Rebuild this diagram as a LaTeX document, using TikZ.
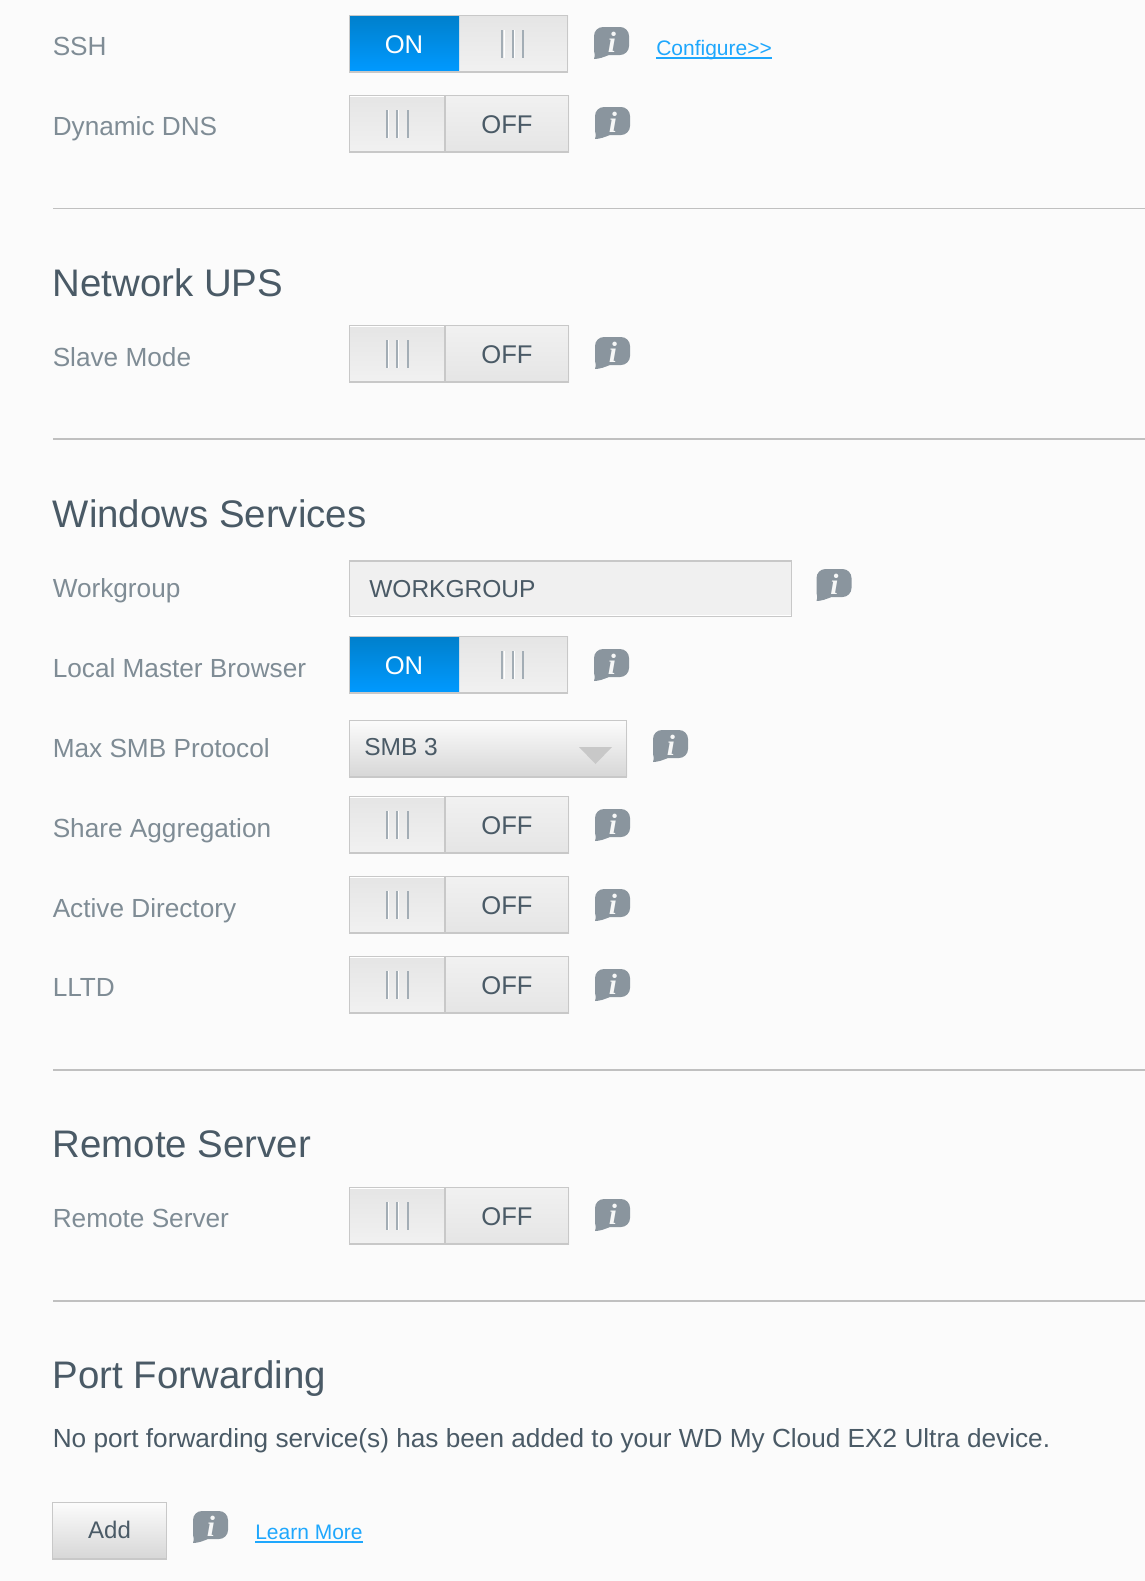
\documentclass[tikz,border=0pt]{standalone}
\usepackage{fontspec}
\setmainfont{Liberation Sans}
\newfontfamily\glyphfont{Liberation Serif}
\definecolor{pagebg}{HTML}{FBFBFB}
\definecolor{rulegray}{HTML}{C0C0C0}
\definecolor{edgegray}{HTML}{C8C8C8}
\definecolor{labelgray}{HTML}{7F8C95}
\definecolor{titleslate}{HTML}{4A5A66}
\definecolor{bubblegray}{HTML}{8A959E}
\definecolor{linkblue}{HTML}{1EA7FD}
\definecolor{gripgray}{HTML}{A3ADB5}
\definecolor{oncolortop}{HTML}{0080CC}
\definecolor{oncolorbottom}{HTML}{0099FF}
\definecolor{graydark}{HTML}{E5E5E5}
\definecolor{graylight}{HTML}{F1F1F1}
\definecolor{buttontop}{HTML}{FCFCFC}
\definecolor{buttonbottom}{HTML}{D7D7D7}
\definecolor{fieldfill}{HTML}{F0F0F0}
\tikzset{
  labeltext/.style={anchor=base west,inner sep=0pt,text=labelgray,font=\fontsize{19.65pt}{23pt}\selectfont},
  titletext/.style={anchor=base west,inner sep=0pt,text=titleslate,font=\fontsize{28.8pt}{34pt}\selectfont},
  bodytext/.style={anchor=base west,inner sep=0pt,text=titleslate,font=\fontsize{19.65pt}{23pt}\selectfont},
  valuetext/.style={anchor=base,inner sep=0pt,text=titleslate,font=\fontsize{19.2pt}{23pt}\selectfont},
  fieldtext/.style={anchor=base west,inner sep=0pt,text=titleslate,font=\fontsize{18.4pt}{22pt}\selectfont},
  ontext/.style={anchor=base,inner sep=0pt,text=white,font=\fontsize{19.2pt}{23pt}\selectfont},
  linktext/.style={anchor=base west,inner sep=0pt,text=linkblue,font=\fontsize{15.75pt}{19pt}\selectfont},
  linkline/.style={draw=linkblue,line width=1.5pt},
  bluepart/.style={top color=oncolortop,bottom color=oncolorbottom},
  handlepart/.style={top color=graydark,bottom color=graylight},
  flatpart/.style={top color=graylight,bottom color=graydark},
  buttonpart/.style={top color=buttontop,bottom color=buttonbottom},
  edgeline/.style={draw=edgegray,line width=0.75pt},
  grip/.style={draw=gripgray,line width=1.5pt},
  gripshade/.style={draw=white,line width=0.75pt},
  sectionrule/.style={draw=rulegray,line width=1.5pt}
}
% speech bubble with the i in it
\newcommand{\infobubble}[3]{
  \fill [bubblegray, shift={(#2,#3)}] (9,0) -- (26,0) .. controls (31,0) and (35,4) .. (35,9) -- (35,19) .. controls (35,24) and (31,28) .. (26,28) -- (15,28) .. controls (10,30) and (5,32) .. (0,32) .. controls (1,30) and (1,28) .. (0,24) -- (0,9) .. controls (0,4) and (4,0) .. (9,0) -- cycle ;
  \draw (#2+18,#3+15) node [inner sep=0pt,text=white!92!bubblegray,font=\glyphfont\bfseries\itshape\fontsize{22pt}{22pt}\selectfont] (#1) {i};
}
% switch that is on, top edge at #2
\newcommand{\switchon}[2]{
  \shade [handlepart] (459,#2) rectangle (568,#2+57);
  \shade [bluepart] (350,#2+1) rectangle (459,#2+56);
  \draw [edgeline] (349.5,#2+.5) rectangle (567.5,#2+56.5);
  \draw [edgegray, line width=1.5pt] (349,#2+56.5) -- (568,#2+56.5);
  \draw [gripshade] (504,#2+15) -- (504,#2+43); \draw [gripshade] (514.5,#2+15) -- (514.5,#2+43);
  \draw [grip] (502.3,#2+15) -- (502.3,#2+43); \draw [grip] (512.8,#2+15) -- (512.8,#2+43); \draw [grip] (523,#2+15) -- (523,#2+43);
  \draw (404,#2+38) node [ontext] (#1) {ON};
}
% switch that is off, top edge at #2
\newcommand{\switchoff}[2]{
  \shade [handlepart] (350,#2) rectangle (445,#2+57);
  \shade [flatpart] (445,#2) rectangle (569,#2+57);
  \draw [edgeline] (349.5,#2+.5) rectangle (568.5,#2+56.5);
  \draw [edgegray, line width=1.5pt] (349,#2+56.5) -- (569,#2+56.5);
  \draw [edgegray, line width=1.5pt] (445,#2+1) -- (445,#2+56);
  \draw [white, line width=0.75pt] (350,#2+1.5) -- (444,#2+1.5);
  \draw [gripshade] (388.2,#2+15) -- (388.2,#2+43); \draw [gripshade] (398.7,#2+15) -- (398.7,#2+43);
  \draw [grip] (386.5,#2+15) -- (386.5,#2+43); \draw [grip] (397,#2+15) -- (397,#2+43); \draw [grip] (408,#2+15) -- (408,#2+43);
  \draw (507,#2+38) node [valuetext] (#1) {OFF};
}
\begin{document}
\begin{tikzpicture}[x=0.75pt,y=0.75pt,yscale=-1,xscale=1]
    \useasboundingbox (0,0) rectangle (1145,1581);
    \fill [pagebg] (0,0) rectangle (1145,1581);

    %Straight Lines
    \draw [sectionrule, line width=0.75pt] (53,208.5) -- (1145,208.5);
    \draw [sectionrule] (53,439) -- (1145,439);
    \draw [sectionrule] (53,1070) -- (1145,1070);
    \draw [sectionrule] (53,1301) -- (1145,1301);

    %Shape: Switches
    \switchon{sshstate}{15}
    \switchoff{dnsstate}{95}
    \switchoff{slavestate}{325}
    \switchon{masterstate}{636}
    \switchoff{sharestate}{796}
    \switchoff{adstate}{876}
    \switchoff{lltdstate}{956}
    \switchoff{remotestate}{1187}

    %Shape: Workgroup field
    \fill [fieldfill] (350,560) rectangle (792,617);
    \draw [edgeline] (349.5,560) rectangle (791.5,616.5);
    \draw [edgegray, line width=1.5pt] (349,560.5) -- (792,560.5);
    \draw [white, line width=0.75pt] (350.5,615.5) -- (791,615.5);

    %Shape: Protocol dropdown
    \shade [buttonpart] (350,720) rectangle (627,776);
    \draw [edgeline] (349.5,720) rectangle (626.5,776.5);
    \draw [edgegray, line width=1.5pt] (349,776.5) -- (627,776.5);
    \fill [edgegray] (579,747) -- (612,747) -- (595.5,764) -- cycle;

    %Shape: Add button
    \shade [buttonpart] (52,1502) rectangle (166.5,1558);
    \draw [edgeline] (52.5,1502.5) rectangle (166.5,1559);
    \draw [edgegray, line width=1.5pt] (52,1558.5) -- (167,1558.5);

    %Shape: Bubbles
    \infobubble{sshinfo}{594}{27}
    \infobubble{dnsinfo}{595}{107}
    \infobubble{slaveinfo}{595}{337}
    \infobubble{workinfo}{816.5}{569}
    \infobubble{masterinfo}{594}{649}
    \infobubble{smbinfo}{653}{730}
    \infobubble{shareinfo}{595}{809}
    \infobubble{adinfo}{595}{889}
    \infobubble{lltdinfo}{595}{969}
    \infobubble{remoteinfo}{595}{1199}
    \infobubble{addinfo}{193}{1511}

    % Text Node
    \draw (52.5,55) node [labeltext] (sshlabel) {SSH};
    % Text Node
    \draw (52.5,135) node [labeltext] (dnslabel) {Dynamic DNS};
    % Text Node
    \draw (52.5,296.5) node [titletext] (upstitle) {Network UPS};
    % Text Node
    \draw (52.5,366) node [labeltext] (slavelabel) {Slave Mode};
    % Text Node
    \draw (52.5,527.5) node [titletext] (wintitle) {Windows Services};
    % Text Node
    \draw (52.5,597) node [labeltext] (worklabel) {Workgroup};
    % Text Node
    \draw (52.5,677) node [labeltext] (masterlabel) {Local Master Browser};
    % Text Node
    \draw (52.5,757) node [labeltext] (smblabel) {Max SMB Protocol};
    % Text Node
    \draw (52.5,837) node [labeltext] (sharelabel) {Share Aggregation};
    % Text Node
    \draw (52.5,917) node [labeltext] (adlabel) {Active Directory};
    % Text Node
    \draw (52.5,996) node [labeltext] (lltdlabel) {LLTD};
    % Text Node
    \draw (52.5,1157.5) node [titletext] (remotetitle) {Remote Server};
    % Text Node
    \draw (52.5,1227) node [labeltext] (remotelabel) {Remote Server};
    % Text Node
    \draw (52.5,1388.5) node [titletext] (porttitle) {Port Forwarding};
    % Text Node
    \draw (52.5,1447) node [bodytext] (portnote) {No port forwarding service(s) has been added to your WD My Cloud EX2 Ultra device.};
    % Text Node
    \draw (369,597) node [fieldtext] (workvalue) {WORKGROUP};
    % Text Node
    \draw (364,755) node [fieldtext] (smbvalue) {SMB 3};
    % Text Node
    \draw (109.5,1538) node [anchor=base,inner sep=0pt,text=titleslate,font=\fontsize{18pt}{22pt}\selectfont] (addtext) {Add};
    % Text Node
    \draw (656,55) node [linktext] (configlink) {Configure>{}>};
    % Text Node
    \draw (255,1539) node [linktext] (learnlink) {Learn More};

    %Straight Lines
    \draw [linkline] ([yshift=2.6pt]configlink.base west) -- ([yshift=2.6pt]configlink.base east);
    \draw [linkline] ([yshift=2.6pt]learnlink.base west) -- ([yshift=2.6pt]learnlink.base east);
\end{tikzpicture}
\end{document}
